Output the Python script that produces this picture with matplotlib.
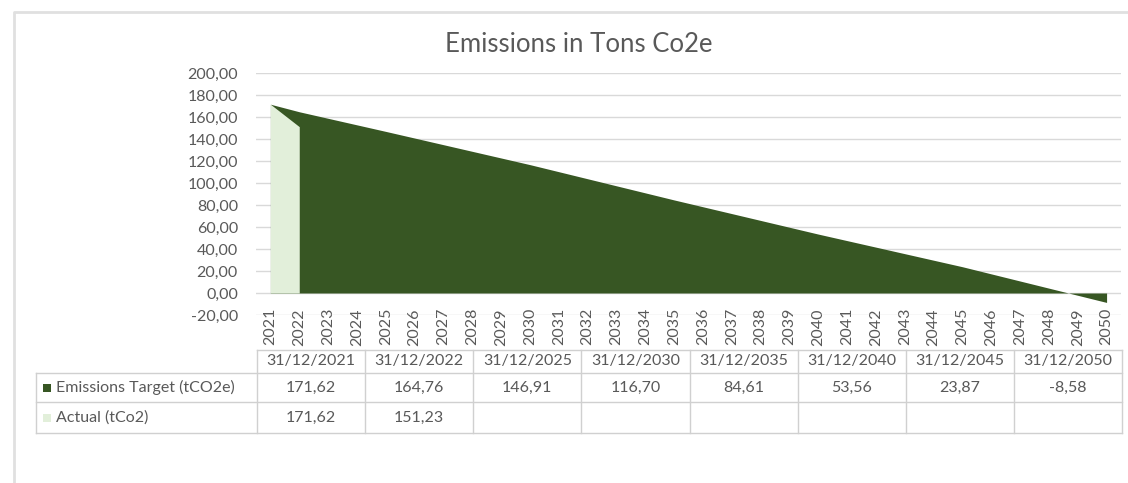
import numpy as np
import matplotlib
matplotlib.use("Agg")
import matplotlib.pyplot as plt
from matplotlib.ticker import FuncFormatter, MultipleLocator

plt.rcParams['font.family'] = ['Lato', 'DejaVu Sans']

dates = ["31/12/2021", "31/12/2022", "31/12/2025", "31/12/2030",
         "31/12/2035", "31/12/2040", "31/12/2045", "31/12/2050"]
target = [171.62, 164.76, 146.91, 116.70, 84.61, 53.56, 23.87, -8.58]
actual = [171.62, 151.23]
year_labels = [str(y) for y in range(2021, 2051)]
series_names = ["Emissions Target (tCO2e)", "Actual (tCo2)"]

dark = "#375623"
light = "#E2EFDA"
txt = "#595959"
grid = "#D9D9D9"

W, H = 1128, 483
fig = plt.figure(figsize=(W / 100, H / 100), dpi=100)

# overlay in pixel coordinates for the frame and the data table
ov = fig.add_axes([0, 0, 1, 1])
ov.set_xlim(0, W)
ov.set_ylim(H, 0)
ov.axis("off")

# chart frame
ov.plot([14, 14, W + 5], [H + 5, 12, 12], color="#E0E0E0", lw=2)

px_left, px_right = 256, 1121
px_top, px_bottom = 73, 315

ax = fig.add_axes([px_left / W, 1 - px_bottom / H,
                   (px_right - px_left) / W, (px_bottom - px_top) / H])
ax.patch.set_alpha(0)

years_t = [int(d[-4:]) for d in dates]
years_a = years_t[:len(actual)]

ax.fill_between(years_t, target, 0, color=dark, lw=0, zorder=2)
ax.fill_between(years_a, actual, 0, color=light, lw=0, zorder=3)

ax.set_xlim(2020.5, 2050.5)
ax.set_ylim(-20, 200)
ax.yaxis.set_major_locator(MultipleLocator(20))
ax.yaxis.set_major_formatter(FuncFormatter(lambda v, p: f"{v:.2f}".replace(".", ",")))
ax.grid(axis="y", color=grid, lw=1, zorder=0)
for s in ax.spines.values():
    s.set_visible(False)
ax.set_xticks(range(2021, 2051))
ax.set_xticklabels(year_labels, rotation=90, fontsize=11.5, color=txt)
ax.tick_params(axis="x", length=0, pad=-5)
ax.tick_params(axis="y", length=0, pad=13, labelsize=11.5, labelcolor=txt)

fig.text(579 / W, 1 - 45 / H, "Emissions in Tons Co2e", ha="center", va="center",
         fontsize=18.5, color=txt)

# data table below the chart
col_edges = np.linspace(257, 1122, len(dates) + 1)
row_y = [350, 373, 402, 433]
lab_left = 36
lc = "#D0D0D0"
ov.plot([col_edges[0], col_edges[-1]], [row_y[0]] * 2, color=lc, lw=1)
for y in row_y[1:]:
    ov.plot([lab_left, col_edges[-1]], [y, y], color=lc, lw=1)
for x in col_edges:
    ov.plot([x, x], [row_y[0], row_y[-1]], color=lc, lw=1)
ov.plot([lab_left, lab_left], [row_y[1], row_y[-1]], color=lc, lw=1)

centers = (col_edges[:-1] + col_edges[1:]) / 2
fs = 11.5
for cx, d in zip(centers, dates):
    ov.text(cx, (row_y[0] + row_y[1]) / 2, d, ha="center", va="center", fontsize=fs, color=txt)

rows = [target, actual]
colors = [dark, light]
for i, (vals, name, c) in enumerate(zip(rows, series_names, colors)):
    yc = (row_y[i + 1] + row_y[i + 2]) / 2
    ov.add_patch(plt.Rectangle((43, yc - 4), 8, 8, color=c, lw=0))
    ov.text(56, yc, name, ha="left", va="center", fontsize=fs, color=txt)
    for cx, v in zip(centers, vals):
        ov.text(cx, yc, f"{v:.2f}".replace(".", ","), ha="center", va="center",
                fontsize=fs, color=txt)

fig.savefig("out.png", dpi=100)
